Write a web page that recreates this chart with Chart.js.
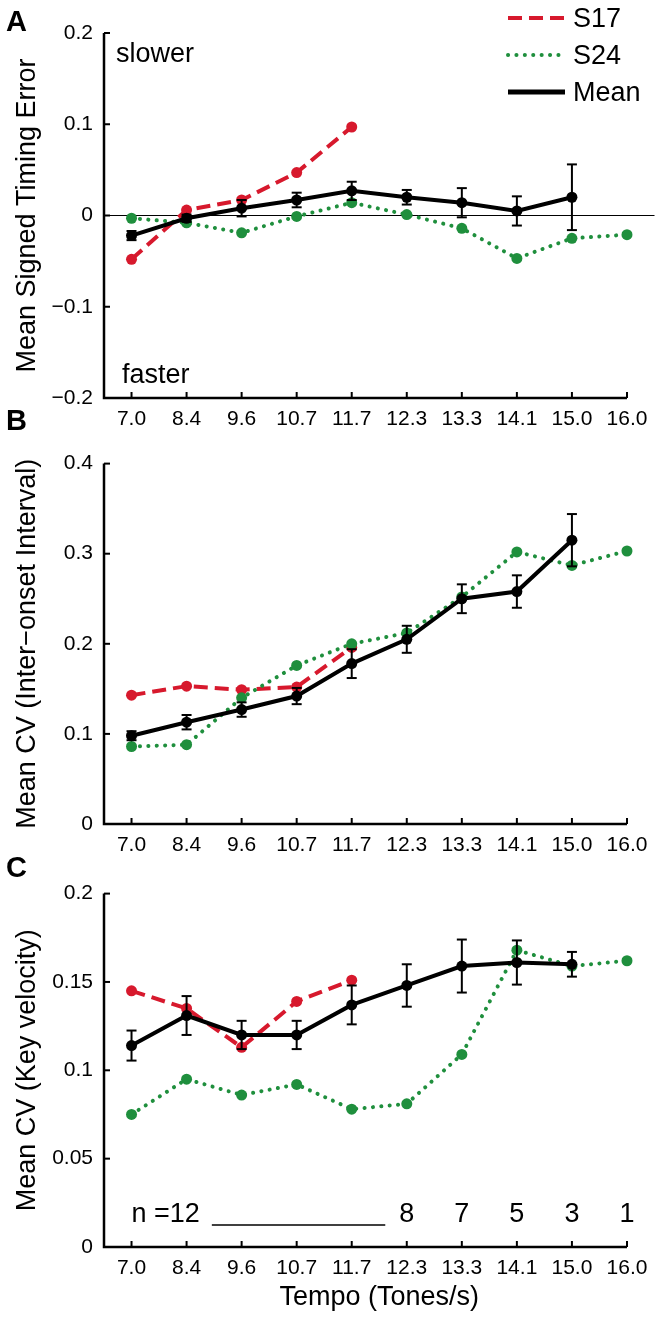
<!DOCTYPE html>
<html>
<head>
<meta charset="utf-8">
<script src="https://cdn.jsdelivr.net/npm/chart.js@4.4.1/dist/chart.umd.min.js"></script>
<style>
	html, body { margin: 0; padding: 0; background: #fff; }
	#wrap { position: relative; width: 660px; height: 1321px; }
	.panel { position: absolute; left: 0; width: 660px; }
	.panel-letter { position: absolute; left: 6px; font: bold 29px 'Liberation Sans', Arial, sans-serif; line-height: 1; color: #000; }
</style>
</head>
<body>
<div id="wrap">
	<div class="panel" style="top:0;height:440px"><canvas id="chart-a"></canvas></div>
	<div class="panel" style="top:440px;height:430px"><canvas id="chart-b"></canvas></div>
	<div class="panel" style="top:870px;height:451px"><canvas id="chart-c"></canvas></div>
	<div class="panel-letter" style="top:7px">A</div>
	<div class="panel-letter" style="top:406px">B</div>
	<div class="panel-letter" style="top:853px">C</div>
</div>
<script>
	const tempo_labels = ['7.0', '8.4', '9.6', '10.7', '11.7', '12.3', '13.3', '14.1', '15.0', '16.0'];

	// A - mean signed timing error
	const timing_s17 = [-0.048, 0.006, 0.017, 0.047, 0.097];
	const timing_s24 = [-0.003, -0.008, -0.019, -0.001, 0.014, 0.001, -0.014, -0.047, -0.025, -0.021];
	const timing_mean = [-0.022, -0.003, 0.008, 0.017, 0.027, 0.02, 0.014, 0.005, 0.02];
	const timing_err = [0.005, 0.004, 0.009, 0.008, 0.01, 0.008, 0.016, 0.016, 0.036];
	const timing_ticks = [-0.2, -0.1, 0, 0.1, 0.2];

	// B - CV of inter-onset interval
	const ioi_s17 = [0.143, 0.153, 0.149, 0.152, 0.196];
	const ioi_s24 = [0.086, 0.088, 0.14, 0.176, 0.2, 0.212, 0.252, 0.302, 0.287, 0.303];
	const ioi_mean = [0.098, 0.113, 0.127, 0.142, 0.178, 0.205, 0.25, 0.258, 0.315];
	const ioi_err = [0.005, 0.008, 0.008, 0.009, 0.016, 0.015, 0.016, 0.018, 0.029];
	const ioi_ticks = [0, 0.1, 0.2, 0.3, 0.4];

	// C - CV of key velocity
	const vel_s17 = [0.145, 0.135, 0.113, 0.139, 0.151];
	const vel_s24 = [0.075, 0.095, 0.086, 0.092, 0.078, 0.081, 0.109, 0.168, 0.159, 0.162];
	const vel_mean = [0.114, 0.131, 0.12, 0.12, 0.137, 0.148, 0.159, 0.161, 0.16];
	const vel_err = [0.0085, 0.011, 0.008, 0.008, 0.011, 0.012, 0.015, 0.0125, 0.007];
	const vel_ticks = [0, 0.05, 0.1, 0.15, 0.2];
	const n_subjects = ['n =12', '', '', '', '', '8', '7', '5', '3', '1'];

	const RED = '#d7192d', GREEN = '#1f8f3d', FONT = "'Liberation Sans', Arial, Helvetica, sans-serif";
	Chart.defaults.font.family = FONT;
	Chart.defaults.color = '#000';

	function to_points(arr) {
		return arr.map((v, i) => ({ x: i, y: v }));
	}

	function fmt_tick(v) {
		if (v === 0) return '0';
		return v < 0 ? '\u2212' + (-v) : String(v);
	}

	function stroke_line(ctx, x1, y1, x2, y2) {
		ctx.beginPath();
		ctx.moveTo(x1, y1);
		ctx.lineTo(x2, y2);
		ctx.stroke();
	}

	/* axes with inward ticks, zero line, error bars, legend and notes */
	const panel_axes = {
		id: 'panel_axes',
		beforeDatasetsDraw(chart, args, o) {
			let { ctx, chartArea: ca, scales: { x, y } } = chart;
			ctx.save();
			ctx.strokeStyle = '#000';
			if (o.zero_line) {
				ctx.lineWidth = 1.2;
				let py = y.getPixelForValue(0);
				stroke_line(ctx, ca.left, py, ca.right, py);
			}
			let x_end = x.getPixelForValue(tempo_labels.length - 1);
			ctx.lineWidth = 2.5;
			ctx.beginPath();
			ctx.moveTo(ca.left, ca.top);
			ctx.lineTo(ca.left, ca.bottom);
			ctx.lineTo(x_end, ca.bottom);
			ctx.stroke();
			ctx.lineWidth = 2;
			x.ticks.forEach(t => {
				let px = x.getPixelForValue(t.value);
				stroke_line(ctx, px, ca.bottom, px, ca.bottom - 6);
			});
			y.ticks.forEach(t => {
				let py = y.getPixelForValue(t.value);
				stroke_line(ctx, ca.left, py, ca.left + 6, py);
			});
			ctx.restore();
		},
		afterDatasetsDraw(chart, args, o) {
			let { ctx, scales: { x, y } } = chart;
			ctx.save();

			// error bars on the mean
			ctx.strokeStyle = '#000';
			ctx.lineWidth = 2;
			o.mean.forEach((m, i) => {
				let px = x.getPixelForValue(i);
				let top = y.getPixelForValue(m + o.err[i]);
				let bot = y.getPixelForValue(m - o.err[i]);
				stroke_line(ctx, px, top, px, bot);
				stroke_line(ctx, px - 5, top, px + 5, top);
				stroke_line(ctx, px - 5, bot, px + 5, bot);
			});

			ctx.font = '27px ' + FONT;
			ctx.fillStyle = '#000';

			if (o.legend) {
				let rows = [2, 1, 0]; // S17, S24, Mean
				rows.forEach((di, r) => {
					let ds = chart.data.datasets[di];
					let ly = 18 + r * 37;
					ctx.strokeStyle = ds.borderColor;
					ctx.lineWidth = di === 0 ? 5 : 4;
					ctx.lineCap = ds.borderCapStyle || 'butt';
					ctx.setLineDash(ds.borderDash || []);
					stroke_line(ctx, 508, ly, 565, ly);
					ctx.setLineDash([]);
					ctx.lineCap = 'butt';
					ctx.textAlign = 'left';
					ctx.textBaseline = 'middle';
					ctx.fillText(ds.label, 573, ly + 2);
				});
			}

			(o.notes || []).forEach(n => {
				ctx.textAlign = 'left';
				ctx.textBaseline = 'alphabetic';
				ctx.fillText(n.text, n.x, n.y);
			});

			if (o.n_labels) {
				ctx.textBaseline = 'alphabetic';
				let base = o.n_base;
				let first_end = 0, next_start = 0;
				o.n_labels.forEach((t, i) => {
					if (!t) return;
					let px = x.getPixelForValue(i);
					if (i === 0) {
						ctx.textAlign = 'left';
						ctx.fillText(t, px, base);
						first_end = px + ctx.measureText(t).width;
					} else {
						ctx.textAlign = 'center';
						ctx.fillText(t, px, base);
						if (!next_start) next_start = px - ctx.measureText(t).width / 2;
					}
				});
				ctx.strokeStyle = '#000';
				ctx.lineWidth = 1.5;
				stroke_line(ctx, first_end + 12, base + 3, next_start - 14, base + 3);
			}
			ctx.restore();
		}
	};

	function build_panel(canvas_id, cfg) {
		return new Chart(document.getElementById(canvas_id), {
			type: 'line',
			data: {
				datasets: [{
					label: 'Mean',
					data: to_points(cfg.mean),
					borderColor: '#000',
					backgroundColor: '#000',
					borderWidth: 4,
					pointRadius: 5.5,
					pointBorderWidth: 0,
					pointBackgroundColor: '#000'
				}, {
					label: 'S24',
					data: to_points(cfg.s24),
					borderColor: GREEN,
					backgroundColor: GREEN,
					borderWidth: 4,
					borderDash: [0.1, 8.3],
					borderCapStyle: 'round',
					pointRadius: 5.5,
					pointBorderWidth: 0,
					pointBackgroundColor: GREEN
				}, {
					label: 'S17',
					data: to_points(cfg.s17),
					borderColor: RED,
					backgroundColor: RED,
					borderWidth: 4,
					borderDash: [14, 7],
					pointRadius: 5.5,
					pointBorderWidth: 0,
					pointBackgroundColor: RED
				}]
			},
			options: {
				responsive: true,
				maintainAspectRatio: false,
				animation: false,
				events: [],
				layout: { padding: { top: cfg.top, right: 3, left: 0, bottom: 0 } },
				plugins: {
					legend: { display: false },
					tooltip: { enabled: false },
					panel_axes: {
						mean: cfg.mean,
						err: cfg.err,
						zero_line: !!cfg.zero_line,
						legend: !!cfg.legend,
						notes: cfg.notes,
						n_labels: cfg.n_labels,
						n_base: cfg.n_base
					}
				},
				scales: {
					x: {
						type: 'linear',
						min: -0.5,
						max: 9.5,
						grid: { display: false, drawTicks: false },
						border: { display: false },
						afterBuildTicks: s => { s.ticks = tempo_labels.map((_, i) => ({ value: i })); },
						afterFit: s => { s.height = cfg.x_height; },
						ticks: {
							padding: 9,
							autoSkip: false,
							maxRotation: 0,
							font: { size: 21 },
							callback: v => tempo_labels[v]
						},
						title: cfg.x_title ? {
							display: true,
							text: cfg.x_title,
							font: { size: 27 },
							padding: { top: 0, bottom: 7 }
						} : { display: false }
					},
					y: {
						min: cfg.ticks[0],
						max: cfg.ticks[cfg.ticks.length - 1],
						grid: { display: false, drawTicks: false },
						border: { display: false },
						afterBuildTicks: s => { s.ticks = cfg.ticks.map(v => ({ value: v })); },
						afterFit: s => { s.width = 104; },
						ticks: { padding: 11, font: { size: 21 }, callback: fmt_tick },
						title: {
							display: true,
							text: cfg.y_title,
							font: { size: 27 },
							padding: { top: 11, bottom: 0 }
						}
					}
				}
			},
			plugins: [panel_axes]
		});
	}

	build_panel('chart-a', {
		s17: timing_s17, s24: timing_s24, mean: timing_mean, err: timing_err, ticks: timing_ticks,
		top: 33, x_height: 42, zero_line: true, legend: true,
		y_title: 'Mean Signed Timing Error',
		notes: [{ text: 'slower', x: 116, y: 62 }, { text: 'faster', x: 122, y: 383 }]
	});

	build_panel('chart-b', {
		s17: ioi_s17, s24: ioi_s24, mean: ioi_mean, err: ioi_err, ticks: ioi_ticks,
		top: 17, x_height: 46,
		y_title: 'Mean CV (Inter\u2212onset Interval)'
	});

	build_panel('chart-c', {
		s17: vel_s17, s24: vel_s24, mean: vel_mean, err: vel_err, ticks: vel_ticks,
		top: 12, x_height: 74,
		y_title: 'Mean CV (Key velocity)',
		x_title: 'Tempo (Tones/s)',
		n_labels: n_subjects, n_base: 352
	});
</script>
</body>
</html>
